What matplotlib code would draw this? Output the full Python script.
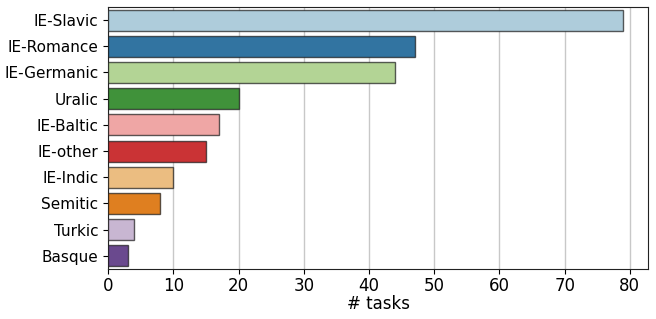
import matplotlib
matplotlib.use("Agg")
import matplotlib.pyplot as plt
import seaborn as sns
import pandas as pd

# Daten
families = ['IE-Slavic', 'IE-Romance', 'IE-Germanic', 'Uralic', 'IE-Baltic',
            'IE-other', 'IE-Indic', 'Semitic', 'Turkic', 'Basque']
n_tasks = [79, 47, 44, 20, 17, 15, 10, 8, 4, 3]

df = pd.DataFrame({'family': families, 'tasks': n_tasks})

fig, ax = plt.subplots(figsize=(6.56, 3.19), dpi=100)

sns.barplot(data=df, x='tasks', y='family', hue='family', palette='Paired',
            legend=False, edgecolor=(0.1, 0.1, 0.1, 0.7), linewidth=1, ax=ax,
            zorder=3)

ax.set_axisbelow(True)
ax.grid(axis='x', color='#c8c8c8', linewidth=1, zorder=0)
ax.set_xlim(0, 82.8)
ax.set_xticks(range(0, 81, 10))
ax.set_ylabel('')
ax.set_xlabel('# tasks', fontsize=12, labelpad=0)
ax.tick_params(axis='x', labelsize=12, pad=2)
ax.tick_params(axis='y', labelsize=11)
for s in ax.spines.values():
    s.set_color('#222222')

fig.subplots_adjust(left=0.165, right=0.988, top=0.978, bottom=0.157)
fig.savefig('out.png', dpi=100)
